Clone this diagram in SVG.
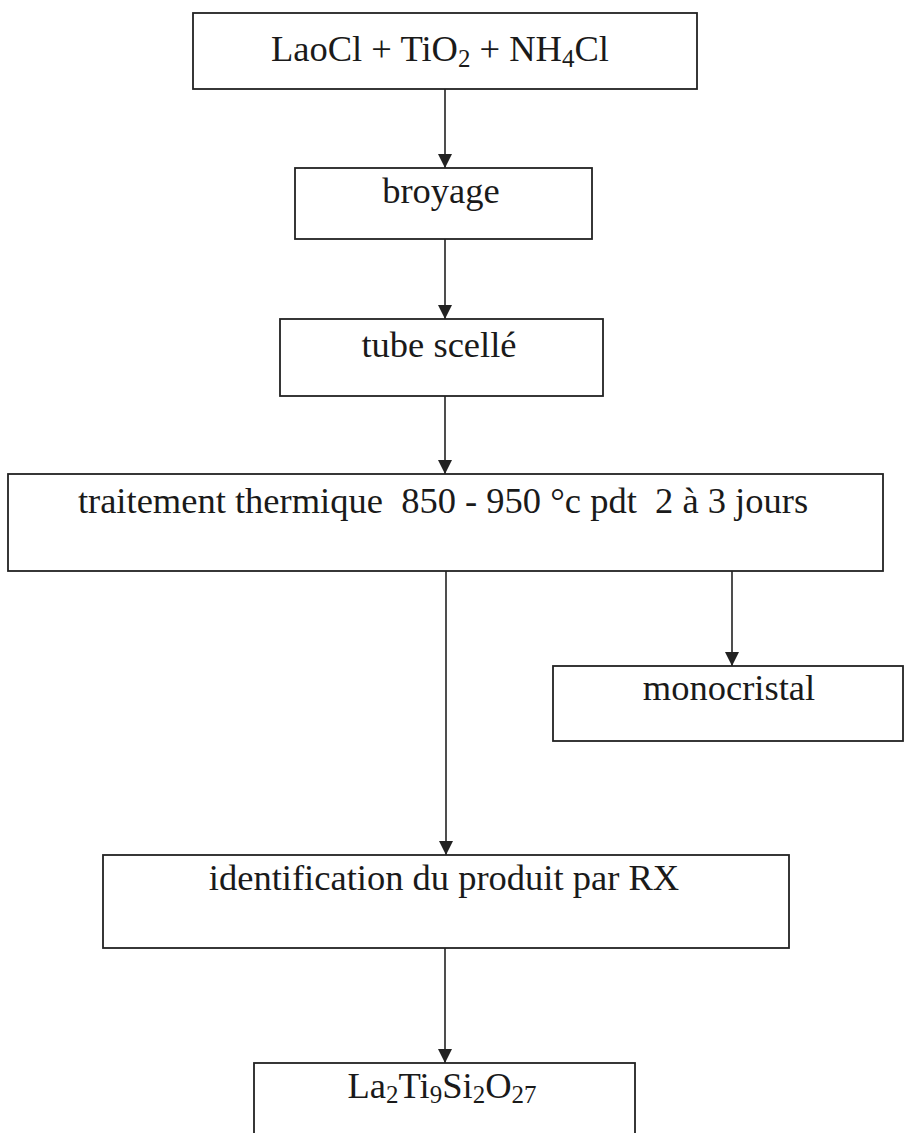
<svg xmlns="http://www.w3.org/2000/svg" width="904" height="1133" viewBox="0 0 904 1133">
<style>
.box{fill:none;stroke:#222;stroke-width:1.8}
.lbl{font-family:"Liberation Serif","Times New Roman",serif;font-size:36.5px;fill:#1a1a1a;text-anchor:middle}
.sub{font-size:25px}
.con{stroke:#222;stroke-width:1.6;fill:none}
</style>
<defs>
<marker id="arr" markerWidth="14" markerHeight="14" refX="14" refY="7" orient="auto" markerUnits="userSpaceOnUse">
<path d="M0,0 L14,7 L0,14 Z" fill="#222"/>
</marker>
</defs>
<rect width="904" height="1133" fill="#fff"/>
<g id="connectors">
<line class="con" x1="445" y1="89" x2="445" y2="168" marker-end="url(#arr)"/>
<line class="con" x1="445" y1="239" x2="445" y2="319" marker-end="url(#arr)"/>
<line class="con" x1="445" y1="396" x2="445" y2="474" marker-end="url(#arr)"/>
<line class="con" x1="446" y1="571" x2="446" y2="855" marker-end="url(#arr)"/>
<line class="con" x1="732" y1="571" x2="732" y2="666" marker-end="url(#arr)"/>
<line class="con" x1="445" y1="948" x2="445" y2="1063" marker-end="url(#arr)"/>
</g>
<g id="n1">
<rect class="box" x="193" y="13" width="504" height="76"/>
<text class="lbl" x="440" y="61">LaoCl + TiO<tspan class="sub" dy="6">2</tspan><tspan dy="-6"> + NH</tspan><tspan class="sub" dy="6">4</tspan><tspan dy="-6">Cl</tspan></text>
</g>
<g id="n2">
<rect class="box" x="295" y="168" width="297" height="71"/>
<text class="lbl" x="441" y="203">broyage</text>
</g>
<g id="n3">
<rect class="box" x="280" y="319" width="323" height="77"/>
<text class="lbl" x="439" y="357">tube scellé</text>
</g>
<g id="n4">
<rect class="box" x="8" y="474" width="875" height="97"/>
<text class="lbl" x="443" y="513" xml:space="preserve">traitement thermique  850 - 950 °c pdt  2 à 3 jours</text>
</g>
<g id="n5">
<rect class="box" x="553" y="666" width="350" height="75"/>
<text class="lbl" x="729" y="700">monocristal</text>
</g>
<g id="n6">
<rect class="box" x="103" y="855" width="686" height="93"/>
<text class="lbl" x="444" y="890">identification du produit par RX</text>
</g>
<g id="n7">
<rect class="box" x="254" y="1063" width="381" height="90"/>
<text class="lbl" x="442" y="1098">La<tspan class="sub" dy="5">2</tspan><tspan dy="-5">Ti</tspan><tspan class="sub" dy="5">9</tspan><tspan dy="-5">Si</tspan><tspan class="sub" dy="5">2</tspan><tspan dy="-5">O</tspan><tspan class="sub" dy="5">27</tspan></text>
</g>
</svg>
